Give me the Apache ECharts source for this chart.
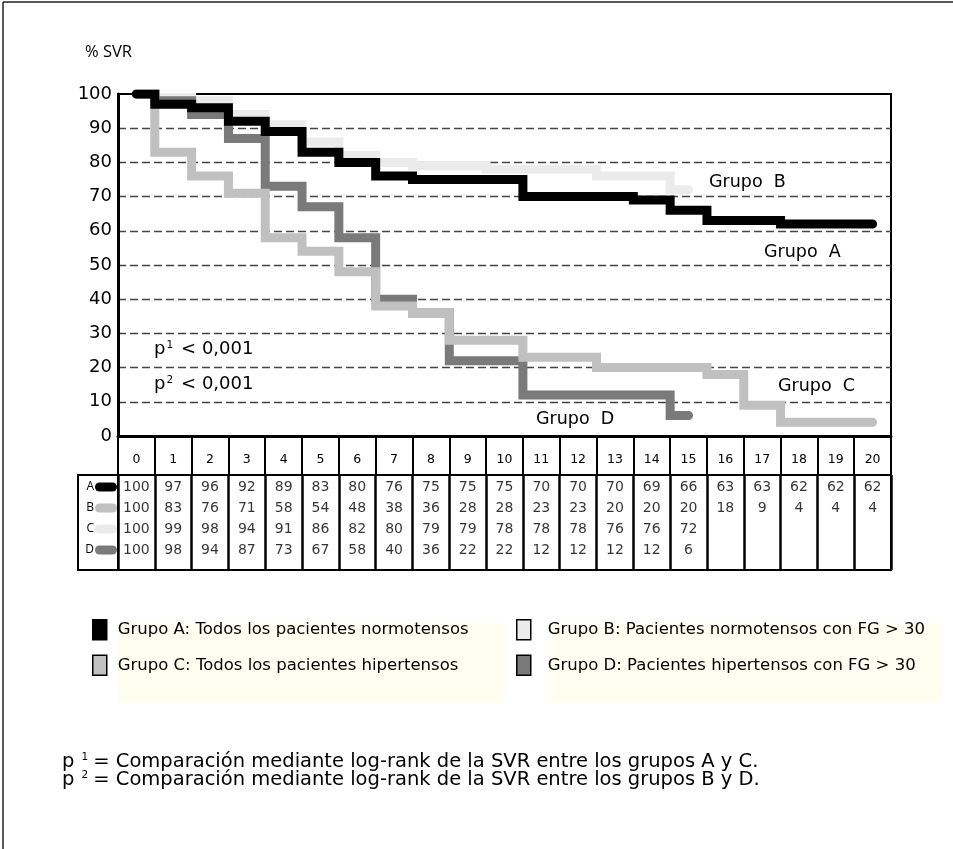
<!DOCTYPE html>
<html><head><meta charset="utf-8">
<script src="https://cdn.jsdelivr.net/npm/echarts@6/dist/echarts.min.js"></script>
<style>html,body{margin:0;padding:0;background:#fff}#c{width:953px;height:849px}</style>
</head><body><div id="c"></div>
<script>
// ---- data ----
const months = ['0','1','2','3','4','5','6','7','8','9','10','11','12','13','14','15','16','17','18','19','20'];
const groupNames = ['Grupo A','Grupo B','Grupo C','Grupo D'];
const legendTexts = [
  'Grupo A: Todos los pacientes normotensos',
  'Grupo B: Pacientes normotensos con FG > 30',
  'Grupo C: Todos los pacientes hipertensos',
  'Grupo D: Pacientes hipertensos con FG > 30'
];
const groupA = [100,97,96,92,89,83,80,76,75,75,75,70,70,70,69,66,63,63,62,62,62];
const groupB = [100,99,98,94,91,86,82,80,79,79,78,78,78,76,76,72];
const groupC = [100,83,76,71,58,54,48,38,36,28,28,23,23,20,20,20,18,9,4,4,4];
const groupD = [100,98,94,87,73,67,58,40,36,22,22,12,12,12,12,6];
const tableRowLabels = ['A','B','C','D'];
const tableRowValues = [groupA, groupC, groupB, groupD];

// ---- styles ----
const FONT = 'DejaVu Sans';
const FONT2 = 'Open Sans';
const colA = '#000000', colB = '#ebebeb', colC = '#c0c0c0', colD = '#7a7a7a';
const rowSwatch = [colA, colC, colB, colD];
const gLeft = 118, gRight = 62, gTop = 94, gHeight = 342;
const tTop = 475, tHeight = 95;

const tableData = [];
tableRowValues.forEach((row, r) => row.forEach((v, c) => tableData.push([c, r, v])));

const lineSeries = (name, data, color) => ({
  name, type: 'line', data, step: 'middle', symbol: 'none', showSymbol: false,
  xAxisIndex: 0, yAxisIndex: 0, color,
  itemStyle: { color },
  lineStyle: { color, width: 9, cap: 'round', join: 'miter' },
  emphasis: { disabled: true }
});

const richRow = { t: { fontSize: 12, color: '#000', fontFamily: FONT2, padding: [0, 1, 0, 0] } };
rowSwatch.forEach((c, i) => {
  richRow['s' + i] = { backgroundColor: c, width: 22, height: 9, borderRadius: 5 };
});

const supRich = (size, gap) => ({
  a: { fontSize: size, fontFamily: FONT },
  s: { fontSize: 10.5, fontFamily: FONT, verticalAlign: 'top', padding: [0, gap, 0, 1] }
});

const chart = echarts.init(document.getElementById('c'), null, { renderer: 'canvas' });
chart.setOption({
  animation: false,
  textStyle: { fontFamily: FONT },
  grid: [
    { left: gLeft, right: gRight, top: gTop, height: gHeight, show: true, borderColor: '#000', borderWidth: 2, backgroundColor: 'transparent' },
    { left: gLeft, right: gRight, top: tTop, height: tHeight, show: true, borderColor: '#000', borderWidth: 2, backgroundColor: 'transparent' }
  ],
  xAxis: [
    { type: 'category', gridIndex: 0, data: months, boundaryGap: true,
      axisLine: { show: true, lineStyle: { color: '#000', width: 3 } },
      axisTick: { show: true, interval: 0, length: 39, lineStyle: { color: '#000', width: 2 } },
      axisLabel: { interval: 0, margin: 17, fontSize: 12.5, color: '#000', fontFamily: FONT },
      splitLine: { show: false } },
    { type: 'category', gridIndex: 1, data: months, boundaryGap: true,
      axisLine: { show: false }, axisTick: { show: false }, axisLabel: { show: false },
      splitLine: { show: true, interval: 0, lineStyle: { color: '#000', width: 2.5 } } }
  ],
  yAxis: [
    { type: 'value', gridIndex: 0, min: 0, max: 100, interval: 10,
      axisLine: { show: true, lineStyle: { color: '#000', width: 3 } },
      axisTick: { show: false },
      axisLabel: { margin: 6, fontSize: 18, color: '#000', fontFamily: FONT },
      splitLine: { show: true, showMinLine: false, showMaxLine: false, lineStyle: { color: '#444', width: 1.4, type: [8, 4] } } },
    { type: 'value', gridIndex: 1, inverse: true, min: -0.57, max: 3.95,
      axisLine: { show: false }, axisTick: { show: false }, splitLine: { show: false },
      axisLabel: { customValues: [0, 1, 2, 3], margin: 1,
        formatter: v => '{t|' + tableRowLabels[v] + '}{s' + v + '|}', rich: richRow } }
  ],
  legend: [
    { data: ['Grupo A', 'Grupo C'], orient: 'vertical', left: 87, top: 614, itemWidth: 14, itemHeight: 20, itemGap: 14,
      icon: 'rect', selectedMode: false, z: 10,
      itemStyle: { borderColor: '#000', borderWidth: 1.5 },
      textStyle: { fontSize: 16.5, color: '#000', fontFamily: FONT, padding: [0, 0, 0, 6] },
      formatter: n => legendTexts[groupNames.indexOf(n)] },
    { data: ['Grupo B', 'Grupo D'], orient: 'vertical', left: 511, top: 614, itemWidth: 14, itemHeight: 20, itemGap: 14,
      icon: 'rect', selectedMode: false, z: 10,
      itemStyle: { borderColor: '#000', borderWidth: 1.5 },
      textStyle: { fontSize: 16.5, color: '#000', fontFamily: FONT, padding: [0, 0, 0, 12] },
      formatter: n => legendTexts[groupNames.indexOf(n)] }
  ],
  series: [
    lineSeries('Grupo B', groupB, colB),
    lineSeries('Grupo D', groupD, colD),
    lineSeries('Grupo C', groupC, colC),
    lineSeries('Grupo A', groupA, colA),
    { type: 'scatter', xAxisIndex: 1, yAxisIndex: 1, data: tableData, symbolSize: 1,
      itemStyle: { color: 'rgba(0,0,0,0)' }, silent: true,
      label: { show: true, position: 'inside', fontSize: 14, color: '#000', fontFamily: FONT,
        formatter: p => String(p.value[2]) } }
  ],
  graphic: [
    { type: 'line', shape: { x1: 3, y1: 2, x2: 953, y2: 2 }, style: { stroke: '#222', lineWidth: 1.5 }, silent: true },
    { type: 'line', shape: { x1: 3, y1: 2, x2: 3, y2: 849 }, style: { stroke: '#222', lineWidth: 1.5 }, silent: true },
    { type: 'rect', z: 0, shape: { x: 117, y: 623, width: 388, height: 80 }, style: { fill: '#fffef0' }, silent: true },
    { type: 'rect', z: 0, shape: { x: 548, y: 623, width: 394, height: 80 }, style: { fill: '#fffef0' }, silent: true },
    { type: 'rect', z: 5, shape: { x: 78, y: tTop, width: gLeft - 78, height: tHeight }, style: { fill: 'none', stroke: '#000', lineWidth: 2 }, silent: true },
    { type: 'text', z: 10, left: 85, top: 44, style: { text: '% SVR', fontSize: 16.5, fill: '#000', fontFamily: FONT2 } },
    { type: 'text', z: 10, left: 709, top: 173, style: { text: 'Grupo  B', fontSize: 17.5, fill: '#000', fontFamily: FONT } },
    { type: 'text', z: 10, left: 764, top: 243, style: { text: 'Grupo  A', fontSize: 17.5, fill: '#000', fontFamily: FONT } },
    { type: 'text', z: 10, left: 778, top: 377, style: { text: 'Grupo  C', fontSize: 17.5, fill: '#000', fontFamily: FONT } },
    { type: 'text', z: 10, left: 536, top: 410, style: { text: 'Grupo  D', fontSize: 17.5, fill: '#000', fontFamily: FONT } },
    { type: 'text', z: 10, left: 154, top: 340, style: { text: '{a|p}{s|1}{a|< 0,001}', fill: '#000', fontFamily: FONT, rich: supRich(18, 8) } },
    { type: 'text', z: 10, left: 154, top: 375, style: { text: '{a|p}{s|2}{a|< 0,001}', fill: '#000', fontFamily: FONT, rich: supRich(18, 8) } },
    { type: 'text', z: 10, left: 62, top: 752, style: { text: '{a|p }{s|1}{a|= Comparación mediante log-rank de la SVR entre los grupos A y C.}', fill: '#000', fontFamily: FONT, rich: supRich(19.5, 5) } },
    { type: 'text', z: 10, left: 62, top: 770, style: { text: '{a|p }{s|2}{a|= Comparación mediante log-rank de la SVR entre los grupos B y D.}', fill: '#000', fontFamily: FONT, rich: supRich(19.5, 5) } }
  ]
});
</script></body></html>
